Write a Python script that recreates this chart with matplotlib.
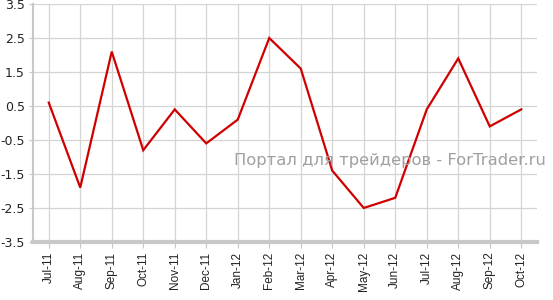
import matplotlib; matplotlib.use("Agg")
import matplotlib.pyplot as plt
import numpy as np

months = ["Jul-11","Aug-11","Sep-11","Oct-11","Nov-11","Dec-11","Jan-12","Feb-12",
          "Mar-12","Apr-12","May-12","Jun-12","Jul-12","Aug-12","Sep-12","Oct-12"]
values = [0.6,-1.9,2.1,-0.8,0.4,-0.6,0.1,2.5,1.6,-1.4,-2.5,-2.2,0.4,1.9,-0.1,0.4]
yticks = [-3.5,-2.5,-1.5,-0.5,0.5,1.5,2.5,3.5]

W,H = 553,300
fig = plt.figure(figsize=(W/100,H/100),dpi=100,facecolor="white")
ax = fig.add_axes([33/W,(H-242)/H,(537-33)/W,(242-4)/H])
x = np.arange(len(months))
ax.plot(x,values,color="#d00000",lw=1.6,solid_joinstyle="miter",zorder=3)
ax.set_xlim(-0.5,len(months)-0.5)
ax.set_ylim(-3.5,3.5)
ax.set_yticks(yticks)
ax.set_yticklabels([f"{v:.1f}" for v in yticks],fontsize=9,family="DejaVu Sans",color="#222222")
ax.set_xticks(x)
ax.set_xticklabels(months,rotation=90,fontsize=8.5,family="Liberation Sans",color="#222222")
ax.grid(True,color="#d4d4d4",lw=0.9)
ax.set_axisbelow(True)
for s in ("top","right"): ax.spines[s].set_visible(False)
ax.spines["left"].set_color("#c8c8c8"); ax.spines["left"].set_linewidth(1.5)
ax.spines["bottom"].set_color("#c8c8c8"); ax.spines["bottom"].set_linewidth(3)
ax.tick_params(axis="both",length=4,color="#c8c8c8",pad=3)
ax.tick_params(axis="y",length=3)
fig.text(546/W,1-161/H,"Портал для трейдеров - ForTrader.ru",
         ha="right",va="center",fontsize=11.8,color="#a0a0a0",family="DejaVu Sans",zorder=2)
fig.savefig("out.png",dpi=100,facecolor="white")
